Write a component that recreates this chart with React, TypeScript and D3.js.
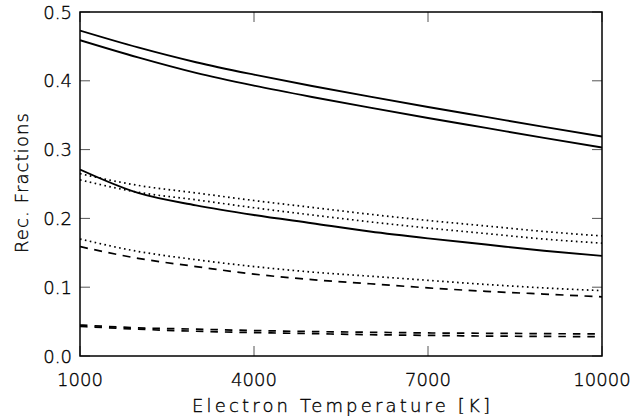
import React from "react";
import * as d3 from "d3";

const temps = [1000, 2000, 3000, 4000, 5000, 6000, 7000, 8000, 9000, 10000];
const solidTop = [0.473, 0.4485, 0.427, 0.409, 0.3925, 0.377, 0.362, 0.3475, 0.333, 0.319];
const solidSecond = [0.459, 0.434, 0.4115, 0.393, 0.3765, 0.361, 0.346, 0.3315, 0.317, 0.303];
const solidThird = [0.271, 0.237, 0.219, 0.205, 0.193, 0.181, 0.171, 0.162, 0.153, 0.1455];
const dottedTop = [0.265, 0.248, 0.237, 0.226, 0.216, 0.206, 0.197, 0.189, 0.181, 0.1745];
const dottedSecond = [0.256, 0.238, 0.227, 0.2155, 0.205, 0.195, 0.186, 0.178, 0.17, 0.164];
const dottedLow = [0.17, 0.152, 0.14, 0.13, 0.122, 0.116, 0.11, 0.104, 0.099, 0.095];
const dashedMid = [0.159, 0.142, 0.13, 0.119, 0.111, 0.105, 0.099, 0.094, 0.09, 0.086];
const dashedLowA = [0.045, 0.041, 0.039, 0.037, 0.0355, 0.0345, 0.0335, 0.033, 0.0325, 0.032];
const dashedLowB = [0.043, 0.039, 0.036, 0.034, 0.0325, 0.031, 0.03, 0.029, 0.0285, 0.028];

const xTicks = [1000, 4000, 7000, 10000];
const yTicks = [0.0, 0.1, 0.2, 0.3, 0.4, 0.5];
const xTitle = "Electron Temperature [K]";
const yTitle = "Rec. Fractions";

const series = [
  { values: solidTop, dash: "none" },
  { values: solidSecond, dash: "none" },
  { values: solidThird, dash: "none" },
  { values: dottedTop, dash: "1.6,3.4" },
  { values: dottedSecond, dash: "1.6,3.4" },
  { values: dottedLow, dash: "1.6,3.4" },
  { values: dashedMid, dash: "8,6.5" },
  { values: dashedLowA, dash: "7.5,7" },
  { values: dashedLowB, dash: "7.5,7" },
];

export default function App() {
  const W = 635, H = 416;
  const L = 80, R = 602, T = 12, B = 356;
  const x = d3.scaleLinear().domain([1000, 10000]).range([L, R]);
  const y = d3.scaleLinear().domain([0, 0.5]).range([B, T]);
  const line = d3.line<number>()
    .x((_, i) => x(temps[i]))
    .y((d) => y(d))
    .curve(d3.curveMonotoneX);
  const font = "'DejaVu Sans', Verdana, sans-serif";
  const col = "#000";
  const textProps = {
    fontFamily: font,
    fontWeight: 300,
    fontSize: 18,
    fill: col,
    stroke: "#000",
    strokeWidth: 0.35,
  };
  return (
    <svg width={W} height={H} style={{ position: "absolute", left: 0, top: 0, background: "#fff" }}>
      <rect x={0} y={0} width={W} height={H} fill="#fff" />
      <defs>
        <clipPath id="plot">
          <rect x={L} y={T} width={R - L} height={B - T} />
        </clipPath>
      </defs>
      <g clipPath="url(#plot)">
        {series.map((s, i) => (
          <path key={i} d={line(s.values) || ""} fill="none" stroke="#000"
            strokeWidth={s.dash === "none" ? 1.9 : 1.7} strokeDasharray={s.dash} />
        ))}
      </g>
      {yTicks.map((t) => (
        <g key={"y" + t}>
          <line x1={L} x2={L + 10} y1={y(t)} y2={y(t)} stroke="#555" strokeWidth={1} />
          <line x1={R} x2={R - 10} y1={y(t)} y2={y(t)} stroke="#555" strokeWidth={1} />
          <text x={72} y={y(t) + 6.5} textAnchor="end" {...textProps}>
            {t.toFixed(1)}
          </text>
        </g>
      ))}
      {xTicks.map((t) => (
        <g key={"x" + t}>
          <line x1={x(t)} x2={x(t)} y1={B} y2={B - 10} stroke="#555" strokeWidth={1} />
          <line x1={x(t)} x2={x(t)} y1={T} y2={T + 10} stroke="#555" strokeWidth={1} />
          <text x={x(t)} y={385.5} textAnchor="middle" {...textProps}>
            {t}
          </text>
        </g>
      ))}
      <rect x={L} y={T} width={R - L} height={B - T} fill="none" stroke="#000" strokeWidth={1.5} />
      <text x={341} y={412} textAnchor="middle" {...textProps} textLength={298} lengthAdjust="spacing">
        {xTitle}
      </text>
      <text transform={`translate(28,${183}) rotate(-90)`} textAnchor="middle" {...textProps}
        textLength={140} lengthAdjust="spacing">
        {yTitle}
      </text>
    </svg>
  );
}
